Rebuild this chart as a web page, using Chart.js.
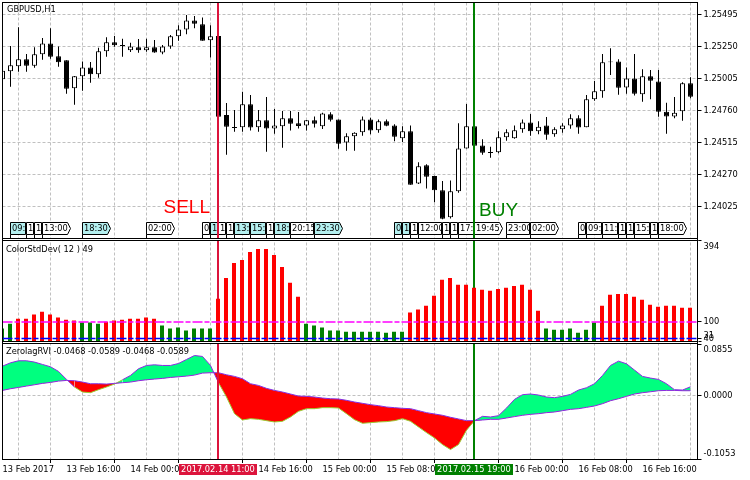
<!DOCTYPE html>
<html><head><meta charset="utf-8">
<script src="https://cdn.jsdelivr.net/npm/chart.js@4"></script>
<style>html,body{margin:0;padding:0;background:#fff}canvas{display:block}</style>
</head><body><canvas id="c" width="750" height="480"></canvas>
<script>
const timeLabels = {0:'13 Feb 2017',8:'13 Feb 16:00',16:'14 Feb 00:00',24:'14 Feb 08:00',32:'14 Feb 16:00',40:'15 Feb 00:00',48:'15 Feb 08:00',56:'15 Feb 16:00',64:'16 Feb 00:00',72:'16 Feb 08:00',80:'16 Feb 16:00'};
const priceTicks = [1.25495,1.25250,1.25005,1.24760,1.24515,1.24270,1.24025];
const stdTicks = [394,100,40,31];
const rviTicks = [0.0855,0,-0.1053];

const openP = [1.25000,1.25061,1.25099,1.25153,1.25104,1.25191,1.25275,1.25176,1.25145,1.24931,1.25023,1.25091,1.25038,1.25214,1.25283,1.25255,1.25222,1.25245,1.25222,1.25245,1.25206,1.25252,1.25329,1.25382,1.25451,1.25421,1.25298,1.25331,1.24727,1.24627,1.24632,1.24808,1.24632,1.24686,1.24624,1.24640,1.24701,1.24663,1.24647,1.24686,1.24640,1.24732,1.24693,1.24517,1.24563,1.24594,1.24693,1.24609,1.24678,1.24647,1.24548,1.24602,1.24203,1.24341,1.24260,1.24150,1.23943,1.24142,1.24471,1.24640,1.24494,1.24435,1.24441,1.24556,1.24548,1.24617,1.24670,1.24602,1.24647,1.24579,1.24617,1.24647,1.24701,1.24632,1.24847,1.24908,1.25137,1.25137,1.24938,1.25007,1.24885,1.25023,1.24984,1.24752,1.24716,1.24755,1.24969];
const closeP = [1.25066,1.25107,1.25153,1.25104,1.25191,1.25275,1.25173,1.25130,1.24928,1.25023,1.25091,1.25038,1.25214,1.25283,1.25260,1.25262,1.25252,1.25222,1.25245,1.25206,1.25252,1.25329,1.25382,1.25451,1.25426,1.25296,1.25329,1.24714,1.24637,1.24635,1.24808,1.24630,1.24686,1.24624,1.24647,1.24701,1.24660,1.24642,1.24686,1.24660,1.24739,1.24691,1.24507,1.24563,1.24591,1.24693,1.24607,1.24678,1.24645,1.24561,1.24602,1.24193,1.24334,1.24254,1.24150,1.23933,1.24142,1.24471,1.24640,1.24492,1.24438,1.24443,1.24556,1.24594,1.24609,1.24670,1.24602,1.24637,1.24576,1.24617,1.24647,1.24701,1.24630,1.24847,1.24908,1.25130,1.25130,1.24936,1.25007,1.24890,1.25023,1.24989,1.24752,1.24716,1.24744,1.24969,1.24867];
const highP = [1.25066,1.25255,1.25398,1.25194,1.25245,1.25316,1.25390,1.25252,1.25145,1.25025,1.25137,1.25132,1.25242,1.25321,1.25331,1.25311,1.25280,1.25308,1.25311,1.25301,1.25262,1.25339,1.25413,1.25492,1.25485,1.25474,1.25413,1.25331,1.24818,1.24765,1.24905,1.24880,1.24765,1.24864,1.24772,1.24757,1.24757,1.24750,1.24688,1.24716,1.24744,1.24747,1.24693,1.24586,1.24594,1.24716,1.24706,1.24693,1.24693,1.24655,1.24640,1.24647,1.24364,1.24349,1.24262,1.24221,1.24226,1.24663,1.24811,1.24640,1.24540,1.24484,1.24602,1.24617,1.24647,1.24693,1.24734,1.24678,1.24711,1.24632,1.24663,1.24732,1.24724,1.24880,1.24987,1.25194,1.25237,1.25153,1.25091,1.25194,1.25076,1.25071,1.25071,1.24821,1.24864,1.24977,1.25015];
const lowP = [1.25000,1.24943,1.25058,1.25058,1.25089,1.25150,1.25158,1.25097,1.24890,1.24806,1.24913,1.24974,1.25012,1.25173,1.25250,1.25173,1.25209,1.25204,1.25211,1.25204,1.25191,1.25234,1.25296,1.25344,1.25390,1.25296,1.25166,1.24714,1.24423,1.24599,1.24599,1.24607,1.24599,1.24446,1.24584,1.24476,1.24607,1.24624,1.24607,1.24630,1.24619,1.24676,1.24469,1.24453,1.24453,1.24568,1.24579,1.24591,1.24640,1.24525,1.24520,1.24193,1.24198,1.24163,1.24058,1.23928,1.23935,1.24132,1.24471,1.24492,1.24423,1.24400,1.24433,1.24530,1.24545,1.24591,1.24568,1.24579,1.24538,1.24561,1.24591,1.24622,1.24584,1.24632,1.24836,1.24859,1.25033,1.24882,1.24890,1.24875,1.24829,1.24847,1.24714,1.24584,1.24701,1.24683,1.24854];

const stdDev = [76,94,112,112,127,137,127,116,108,105,98,98,94,101,105,108,112,112,116,112,87,76,80,69,76,76,76,184,260,314,325,354,365,365,343,300,242,192,94,87,80,69,69,65,65,65,65,65,61,65,65,134,145,159,195,253,260,235,235,224,217,213,220,224,231,235,217,141,76,72,72,76,61,72,98,159,199,202,202,192,181,163,155,159,159,152,152];
const stdFalling = [0,1,10,11,12,20,21,22,23,24,25,26,38,39,40,41,42,43,44,45,46,47,48,49,50,68,69,70,71,72,73,74];
const stdLevels = [100,40];

const rviFast = [.0492,.0547,.0581,.0581,.0559,.0520,.0481,.0404,.0271,.0144,.0061,.0050,.0100,.0144,.0194,.0265,.0337,.0448,.0503,.0514,.0503,.0503,.0536,.0603,.0669,.0653,.0503,.0216,-.0022,-.0299,-.0404,-.0382,-.0393,-.0415,-.0437,-.0426,-.0354,-.0260,-.0216,-.0216,-.0199,-.0199,-.0205,-.0299,-.0398,-.0459,-.0448,-.0437,-.0431,-.0415,-.0382,-.0426,-.0520,-.0614,-.0702,-.0813,-.0896,-.0813,-.0575,-.0415,-.0343,-.0354,-.0332,-.0205,-.0061,.0017,.0028,.0011,-.0022,-.0033,-.0011,.0022,.0094,.0133,.0199,.0337,.0503,.0575,.0531,.0426,.0321,.0293,.0271,.0199,.0100,.0094,.0149];
const rviSlow = [.0088,.0116,.0138,.0160,.0182,.0205,.0221,.0243,.0254,.0249,.0227,.0199,.0199,.0194,.0205,.0216,.0227,.0249,.0265,.0277,.0288,.0304,.0315,.0326,.0343,.0376,.0382,.0382,.0348,.0321,.0282,.0199,.0171,.0122,.0088,.0061,.0028,-.0006,-.0011,-.0022,-.0039,-.0050,-.0055,-.0077,-.0105,-.0127,-.0149,-.0166,-.0188,-.0199,-.0210,-.0216,-.0249,-.0282,-.0304,-.0326,-.0359,-.0387,-.0415,-.0415,-.0404,-.0393,-.0393,-.0371,-.0348,-.0326,-.0310,-.0299,-.0282,-.0271,-.0249,-.0227,-.0216,-.0194,-.0171,-.0133,-.0083,-.0050,-.0011,.0028,.0050,.0066,.0083,.0088,.0088,.0083,.0083];

const markerBars = [27,59];
const markerColors = ['#DC143C','#008000'];
const markerStamps = ['2017.02.14 11:00','2017.02.15 19:00'];
const signalTexts = ['SELL','BUY'];

const flagBars = [1,3,4,5,10,18,25,26,27,28,29,31,33,34,36,39,49,50,51,52,55,56,57,59,63,66,72,73,75,77,78,79,81,82];
const flagTexts = ['09:','1','1','13:00','18:30','02:00','0','1','1','1','13:','15:','1','18:','20:15','23:30','0','1','1','12:00','1','1','17:','19:45','23:00','02:00','0','09:','11:','1','1','15:','1','18:00'];
const flagCyan = [1,0,0,0,1,0,0,1,0,0,1,1,0,1,0,1,1,1,0,0,0,0,0,0,0,0,0,0,0,0,0,0,0,0];

const FONT = '"DejaVu Sans Condensed", "Liberation Sans", Arial, sans-serif';
const SIGNAL_FONT = '"Liberation Sans", Arial, sans-serif';
const FS = 9.2;
const idx = openP.map((_, i) => i);
const PRICE_MIN = 1.23781, PRICE_MAX = 1.25588;
const STD_MIN = 31, STD_MAX = 403;
const RVI_MIN = -0.1053, RVI_MAX = 0.0910;
const XMIN = 0, XMAX = 86.875;
const SHIFT = 0.0625;
const GRID = '#c0c0c0';

const barBase = {type:'bar', grouped:false, inflateAmount:0};
const ends = [XMIN, XMAX];

const datasets = [
  {...barBase, label:'marker price', xAxisID:'x2', yAxisID:'y', order:1, barThickness:2,
   data:markerBars.map(i=>({x:i,y:[PRICE_MIN,PRICE_MAX]})), backgroundColor:markerColors},
  {...barBase, label:'body', yAxisID:'y', order:4, barThickness:5,
   data:idx.map(i=>({x:i,y:[openP[i],closeP[i]]})),
   backgroundColor:idx.map(i=>closeP[i]>=openP[i]?'#ffffff':'#000000'), borderColor:'#000', borderWidth:1, borderSkipped:false},
  {...barBase, label:'wick', yAxisID:'y', order:5, barThickness:1,
   data:idx.map(i=>({x:i,y:[lowP[i],highP[i]]})), backgroundColor:'#000'},
  {type:'line', label:'level 100', xAxisID:'x', yAxisID:'yStd', order:2, data:ends.map(x=>({x,y:stdLevels[0]})),
   borderColor:'#ff00ff', borderWidth:1.5, borderDash:[10,2,5,2], pointRadius:0},
  {type:'line', label:'level 40', xAxisID:'x', yAxisID:'yStd', order:2, data:ends.map(x=>({x,y:stdLevels[1]})),
   borderColor:'#0000ff', borderWidth:1.5, borderDash:[10,2,5,2], pointRadius:0},
  {...barBase, label:'ColorStdDev', xAxisID:'x2', yAxisID:'yStd', order:3, barThickness:4,
   data:idx.map(i=>({x:i,y:stdDev[i]})),
   backgroundColor:idx.map(i=>stdFalling.includes(i)?'#008000':'#ff0000')},
  {...barBase, label:'marker std', xAxisID:'x2', yAxisID:'yStd', order:6, barThickness:2,
   data:markerBars.map(i=>({x:i,y:[STD_MIN,STD_MAX]})), backgroundColor:markerColors},
  {type:'line', label:'RVI fast', xAxisID:'x', yAxisID:'yRvi', order:8,
   data:idx.map(i=>({x:i,y:rviFast[i]})), borderWidth:1, pointRadius:0, tension:0,
   borderColor:'#8a2be2',
   segment:{borderColor:c=>rviFast[c.p0DataIndex]<rviSlow[c.p0DataIndex]?'#9acd32':'#8a2be2'},
   fill:{target:8, above:'#00ff7f', below:'#ff0000'}},
  {type:'line', label:'RVI slow', xAxisID:'x', yAxisID:'yRvi', order:7,
   data:idx.map(i=>({x:i,y:rviSlow[i]})), borderColor:'#8a2be2', borderWidth:1, pointRadius:0, tension:0, fill:false},
  {...barBase, label:'marker rvi', xAxisID:'x2', yAxisID:'yRvi', order:1, barThickness:2,
   data:markerBars.map(i=>({x:i,y:[RVI_MIN,RVI_MAX]})), backgroundColor:markerColors},
];

function yScale(weight, min, max, ticks, stackWeight, fmt, gridColor){
  return {
    type:'linear', position:'right', stack:'panes', stackWeight, weight, min, max, offset:false,
    afterBuildTicks:s=>{s.ticks=ticks.map(v=>({value:v}));},
    afterFit:s=>{s.width=52.5;s.paddingTop=0;s.paddingBottom=0;},
    border:{display:false, dash:[3,2]},
    grid:{color:gridColor, tickColor:'#000', tickLength:4, tickBorderDash:[], lineWidth:1, drawOnChartArea:true},
    ticks:{autoSkip:false, padding:2, color:'#000', font:{family:FONT,size:FS,lineHeight:1.2}, callback:fmt}
  };
}

const paneText = {
  id:'paneText',
  beforeDatasetsDraw(ch){
    const {ctx,scales:{x,y}} = ch;
    ctx.save();
    ctx.font = FS+'px '+FONT;
    ctx.textBaseline='middle'; ctx.textAlign='left';
    const bottom = y.bottom;
    flagBars.forEach((b,k)=>{
      const left = Math.floor(x.getPixelForValue(b))+0.5;
      const next = k+1<flagBars.length ? Math.floor(x.getPixelForValue(flagBars[k+1]))+0.5 : 1e9;
      const full = 28;
      const arrow = next-left >= full+1;
      const w = arrow ? full : next-left-1;
      const top = bottom-16, bot = bottom-4;
      ctx.beginPath();
      ctx.moveTo(left,top);
      if(arrow){ ctx.lineTo(left+w-3,top); ctx.lineTo(left+w,(top+bot)/2); ctx.lineTo(left+w-3,bot); }
      else { ctx.lineTo(left+w,top); ctx.lineTo(left+w,bot); }
      ctx.lineTo(left,bot); ctx.closePath();
      ctx.fillStyle = flagCyan[k]?'#b4f0f0':'#ffffff'; ctx.fill();
      ctx.strokeStyle='#000'; ctx.lineWidth=1; ctx.stroke();
      ctx.beginPath(); ctx.moveTo(left,bot); ctx.lineTo(left,bottom); ctx.stroke();
      ctx.save();
      ctx.beginPath(); ctx.rect(left+0.5,top,w-1,bot-top); ctx.clip();
      ctx.fillStyle='#000';
      ctx.fillText(flagTexts[k],left+1.5,(top+bot)/2+0.5);
      ctx.restore();
    });
    ctx.restore();
  },
  afterDatasetsDraw(ch){
    const {ctx,chartArea:a,scales:{x,x2,y,yStd,yRvi}} = ch;
    ctx.save();
    ctx.fillStyle='#fff';
    ctx.fillRect(a.left-1,y.bottom,a.right-a.left+2,yStd.top+2-y.bottom);
    ctx.fillRect(a.left-1,yStd.bottom,a.right-a.left+2,yRvi.top+2-yStd.bottom);
    ctx.strokeStyle='#000'; ctx.lineWidth=1;
    const L=Math.floor(a.left)+0.5, R=Math.floor(a.right)+0.5;
    const hl=Y=>{ctx.beginPath();ctx.moveTo(L,Y);ctx.lineTo(R,Y);ctx.stroke();};
    hl(Math.floor(y.top)+0.5); hl(Math.floor(y.bottom)+0.5); hl(Math.floor(y.bottom)+2.5);
    hl(Math.floor(yStd.bottom)+0.5); hl(Math.floor(yStd.bottom)+2.5); hl(Math.floor(yRvi.bottom)+0.5);
    ctx.beginPath();ctx.moveTo(L,Math.floor(y.top));ctx.lineTo(L,a.bottom+1);ctx.moveTo(R,Math.floor(y.top));ctx.lineTo(R,a.bottom+1);ctx.stroke();
    ctx.fillStyle='#000'; ctx.textAlign='left'; ctx.textBaseline='middle';
    ctx.font=FS+'px '+FONT;
    ctx.fillText('GBPUSD,H1',7,y.top+7.5);
    ctx.fillText('ColorStdDev( 12 ) 49',6,yStd.bottom-91.5);
    ctx.fillText('ZerolagRVI -0.0468 -0.0589 -0.0468 -0.0589',6,yRvi.top+11);
    ctx.font='19px '+SIGNAL_FONT;
    ctx.fillStyle='#ff0000';
    ctx.textAlign='right';
    ctx.fillText(signalTexts[0],x2.getPixelForValue(markerBars[0])-8,y.getPixelForValue(1.24017));
    ctx.fillStyle=markerColors[1];
    ctx.textAlign='left';
    ctx.fillText(signalTexts[1],x2.getPixelForValue(markerBars[1])+5,y.getPixelForValue(1.23992));
    ctx.font=FS+'px '+FONT; ctx.textAlign='center';
    markerBars.forEach((b,k)=>{
      const cx=x2.getPixelForValue(b);
      ctx.fillStyle=markerColors[k];
      ctx.fillRect(cx-39,a.bottom+5,78,11);
      ctx.fillStyle='#fff';
      ctx.fillText(markerStamps[k],cx,a.bottom+10.5);
    });
    ctx.restore();
  }
};

new Chart(document.getElementById('c'),{
  data:{datasets},
  plugins:[paneText],
  options:{
    responsive:false, animation:false, devicePixelRatio:1,
    layout:{padding:{left:2.5,top:2.5,right:0,bottom:0}},
    plugins:{legend:{display:false},tooltip:{enabled:false},title:{display:false}},
    scales:{
      x:{type:'linear',position:'bottom',min:XMIN,max:XMAX,offset:false,
        afterBuildTicks:s=>{const t=[];for(let i=0;i<=84;i+=4)t.push({value:i});s.ticks=t;},
        afterFit:s=>{s.height=21;s.paddingLeft=0;s.paddingRight=0;},
        border:{display:false,dash:[3,2]},
        grid:{color:c=>c.tick&&c.tick.value===0?'rgba(0,0,0,0)':GRID,lineWidth:1,tickLength:4,tickBorderDash:[],
              tickColor:c=>c.tick&&c.tick.value%8===0?'#000':'rgba(0,0,0,0)'},
        ticks:{autoSkip:false,maxRotation:0,minRotation:0,align:'start',padding:1,color:'#000',
               font:{family:FONT,size:FS,lineHeight:1.2},
               callback:v=>timeLabels[v]||''}},
      x2:{type:'linear',display:false,position:'bottom',min:XMIN+SHIFT,max:XMAX+SHIFT,offset:false},
      y:yScale(1,PRICE_MIN,PRICE_MAX,priceTicks,236,v=>v.toFixed(5),GRID),
      yStd:yScale(2,STD_MIN,STD_MAX,stdTicks,102.5,
        v=>v===394?['',String(v)]:v===31?[String(v),'']:String(v),'rgba(0,0,0,0)'),
      yRvi:yScale(3,RVI_MIN,RVI_MAX,rviTicks,118,
        v=>v>0?['',v.toFixed(4)]:v<0?[v.toFixed(4),'']:v.toFixed(4),
        c=>c.tick&&c.tick.value===0?GRID:'rgba(0,0,0,0)')
    }
  }
});
</script>
</body></html>
